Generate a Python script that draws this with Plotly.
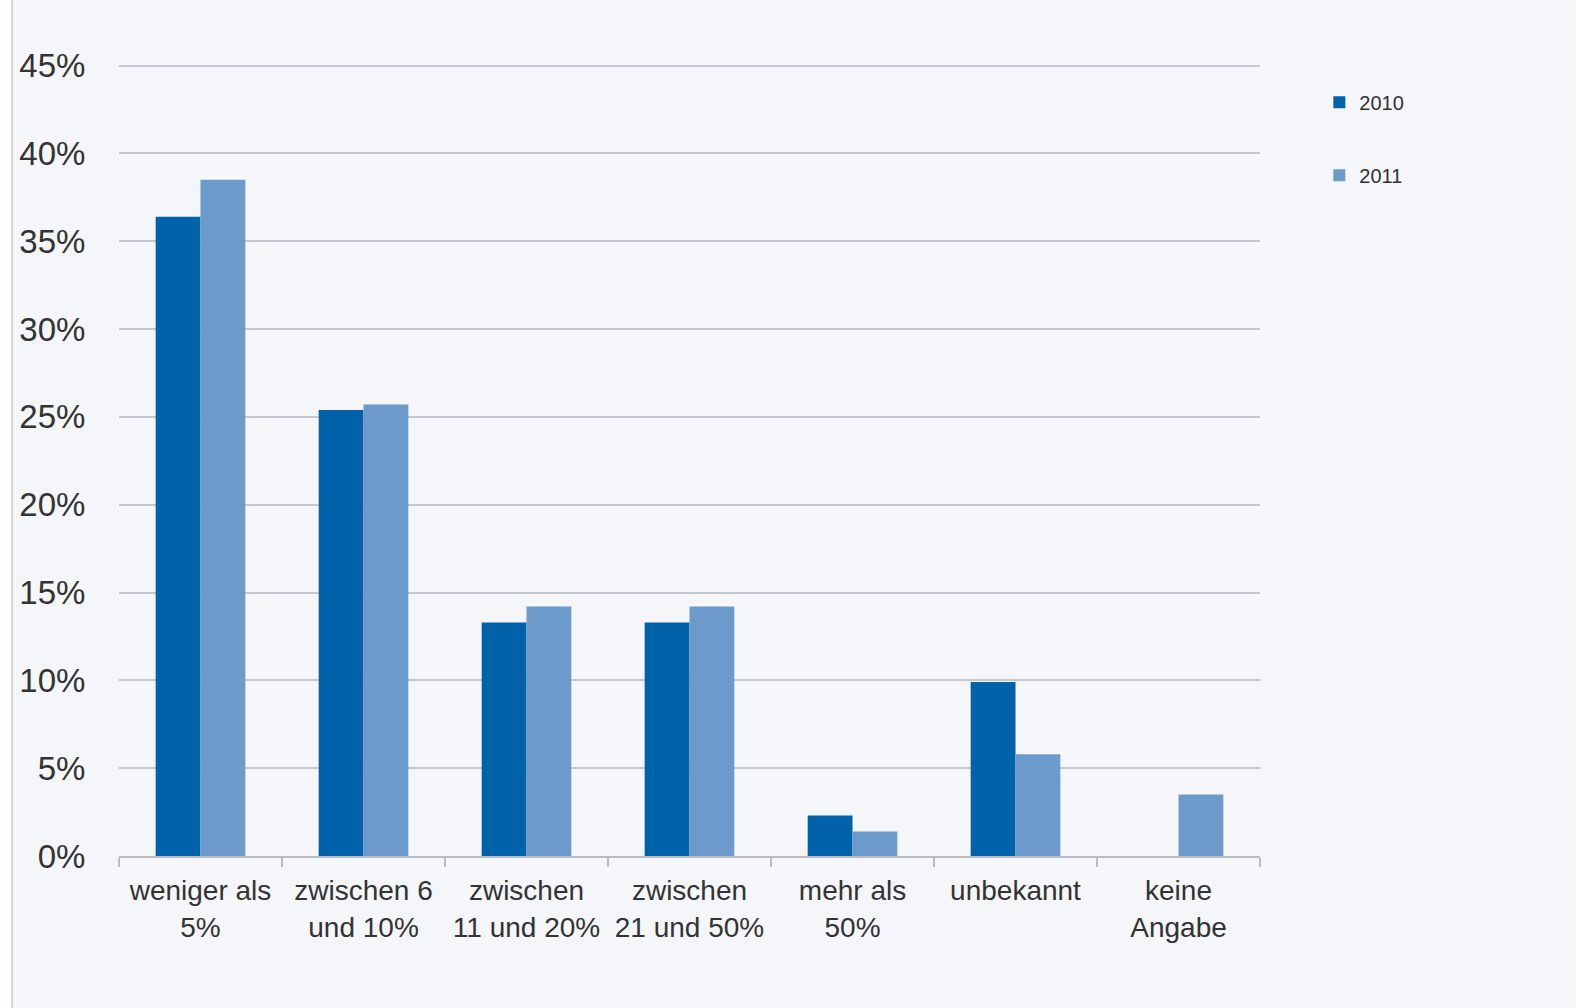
import plotly.graph_objects as go

categories = ["weniger als<br>5%", "zwischen 6<br>und 10%", "zwischen<br>11 und 20%",
              "zwischen<br>21 und 50%", "mehr als<br>50%", "unbekannt", "keine<br>Angabe"]
values_2010 = [36.4, 25.4, 13.3, 13.3, 2.3, 9.9, 0]
values_2011 = [38.5, 25.7, 14.2, 14.2, 1.4, 5.8, 3.5]
y_ticks = [0, 5, 10, 15, 20, 25, 30, 35, 40, 45]
y_tick_labels = [f"{v}%" for v in y_ticks]

fig = go.Figure()
fig.add_trace(go.Bar(x=categories, y=values_2010, name="2010", marker_color="#0063a9",
                     marker_line_width=0, legendgroup="a"))
fig.add_trace(go.Bar(x=categories, y=values_2011, name="2011", marker_color="#6c9bcb",
                     marker_line_width=0, legendgroup="b"))

fig.update_layout(
    width=1576, height=1008,
    margin=dict(l=119, r=316, t=63, b=152),
    paper_bgcolor="#f4f6fa", plot_bgcolor="#f4f6fa",
    font=dict(family="Liberation Sans, Arial, sans-serif", color="#333333"),
    barmode="group", bargap=0.45, bargroupgap=0,
    showlegend=True,
    legend=dict(x=1.052, y=0.975, xanchor="left", yanchor="top",
                font=dict(size=20, color="#333333"), tracegroupgap=44,
                itemwidth=30, bgcolor="rgba(0,0,0,0)"),
    xaxis=dict(showgrid=False, showline=True, linecolor="#b8bcc4", linewidth=1.5,
               ticks="outside", tickson="boundaries", ticklen=9, tickcolor="#b8bcc4",
               tickwidth=1.5, tickfont=dict(size=28, color="#333333"), zeroline=False,
               ticklabelstandoff=9),
    yaxis=dict(range=[0, 45.15], tickvals=y_ticks, ticktext=y_tick_labels,
               showgrid=True, gridcolor="#c3c7cf", gridwidth=1.5, zeroline=False,
               showline=False, ticks="outside", ticklen=26, tickcolor="rgba(0,0,0,0)",
               tickfont=dict(size=33, color="#333333")),
    shapes=[dict(type="line", xref="paper", yref="paper", x0=-0.0937, x1=-0.0937,
                 y0=-0.2, y1=1.08, line=dict(color="#c8ccd4", width=1.5)),
            dict(type="rect", xref="paper", yref="paper", x0=-0.11, x1=-0.0944,
                 y0=-0.2, y1=1.1, fillcolor="#fdfdfe", line=dict(width=0), layer="below")],
)

fig.write_html("out.html")
